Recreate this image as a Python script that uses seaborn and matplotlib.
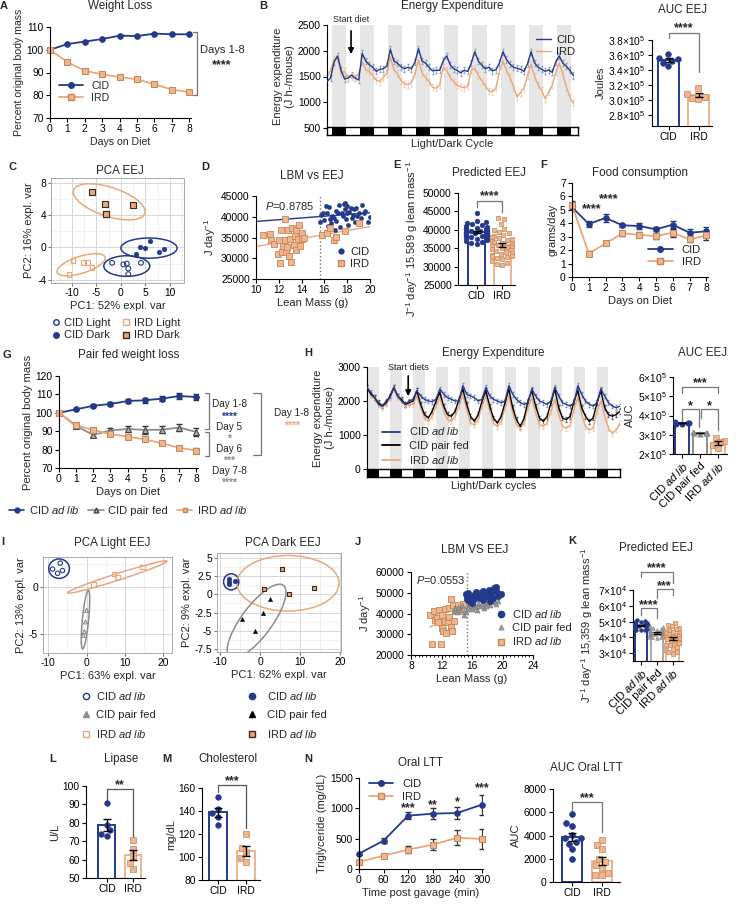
import numpy as np
import pandas as pd
import seaborn as sns
import matplotlib.pyplot as plt
from matplotlib.patches import Ellipse
from matplotlib.lines import Line2D
from matplotlib.ticker import FuncFormatter, MultipleLocator

# ---------------- data ----------------
days = [0, 1, 2, 3, 4, 5, 6, 7, 8]
wl_cid = [100, 102.5, 103.6, 104.7, 106.2, 106.0, 107.1, 106.8, 106.8]
wl_ird = [100, 94.6, 90.7, 89.2, 88.0, 87.0, 84.8, 82.5, 81.4]

# energy expenditure, 3 h bins
ee_hours = list(range(0, 211, 3))
ee_cid = [1400, 1470, 1780, 1900, 1620, 1450, 1470, 1530, 1470, 1430,
          1950, 1800, 1730, 1680, 1600, 1640, 1650, 1700, 2030, 1800,
          1760, 1690, 1650, 1680, 1650, 1780, 2040, 1800, 1760, 1680,
          1610, 1620, 1620, 1800, 1900, 1730, 1650, 1620, 1570, 1620,
          1600, 1760, 1980, 1800, 1720, 1650, 1680, 1610, 1630, 1760,
          1980, 1830, 1740, 1680, 1660, 1640, 1600, 1750, 1980, 1760,
          1680, 1640, 1600, 1630, 1580, 1780, 1900, 1760, 1700, 1620,
          1520]
ee_ird = [1500, 1620, 1830, 1850, 1570, 1600, 1470, 1490, 1470, 1550,
          1790, 1630, 1600, 1520, 1430, 1400, 1480, 1560, 1880, 1630,
          1560, 1420, 1360, 1340, 1380, 1560, 1820, 1570, 1480, 1400,
          1290, 1270, 1330, 1680, 1620, 1480, 1400, 1330, 1300, 1280,
          1310, 1620, 1660, 1520, 1420, 1320, 1220, 1200, 1270, 1600,
          1800, 1620, 1480, 1300, 1100, 1190, 1280, 1520, 1740, 1500,
          1330, 1230, 1070, 1200, 1330, 1580, 1760, 1550, 1300, 1100,
          980]
ee_dark = [4, 28, 52, 76, 100, 124, 148, 172, 196]
ee_sem = 60

auc_cid = [3.62e5, 3.56e5, 3.50e5, 3.45e5, 3.52e5, 3.55e5]
auc_ird = [3.17e5, 3.05e5, 3.03e5, 3.08e5, 3.02e5]

# PCA EEJ (C)
c_cl_x = [-1.8, 0.5, 1.2, 1.5, 1.5, 4.1]
c_cl_y = [-1.9, -2.1, -2.0, -2.6, -3.3, -1.9]
c_cd_x = [5.9, 3.9, 4.9, 3.0, 7.8, 8.9]
c_cd_y = [0.8, 0.1, -0.1, -0.8, -0.6, -0.2]
c_il_x = [-9.8, -10.6, -7.6, -6.8, -5.9]
c_il_y = [-1.6, -3.3, -1.9, -1.9, -2.5]
c_id_x = [-6.0, -3.2, -3.0, -3.1, 2.4]
c_id_y = [6.9, 5.4, 4.1, 4.2, 5.2]
c_ell = {'id': (-2.4, 5.65, 14.9, 3.7, -10), 'il': (-8.15, -2.14, 10.0, 2.15, 10),
         'cd': (5.74, -0.08, 11.5, 2.5, 0), 'cl': (1.2, -2.3, 9.4, 2.55, 0)}

# LBM vs EEJ (D)
d_cid_x = [15.6, 15.7, 15.9, 16.0, 16.1, 16.2, 16.3, 16.4, 16.5, 16.6, 16.7, 16.8, 16.9, 17.0,
           17.0, 17.2, 17.3, 17.4, 17.5, 17.6, 17.7, 17.8, 17.8, 17.9, 18.0, 18.0, 18.1, 18.2,
           18.3, 18.4, 18.5, 18.6, 18.7, 18.8, 18.9, 19.0, 19.2, 19.3, 19.5, 19.6, 19.8, 20.0]
d_cid_y = [38800, 40500, 40800, 39200, 42500, 41000, 37800, 42300, 39500, 38500, 40200, 39800,
           36800, 41500, 39000, 40800, 42800, 37500, 41000, 40200, 43000, 43200, 41800, 39500,
           42600, 40800, 38000, 41200, 42200, 39800, 40500, 41800, 38800, 42000, 40300, 41000,
           39600, 42800, 40800, 41500, 38800, 40000]
d_ird_x = [10.6, 11.2, 11.3, 11.6, 11.9, 12.0, 12.1, 12.2, 12.3, 12.4, 12.5, 12.5, 12.6, 12.7,
           12.8, 12.9, 13.0, 13.1, 13.2, 13.3, 13.4, 13.5, 13.5, 13.7, 13.8, 13.9, 14.0, 14.0,
           14.2, 15.8, 16.2, 16.5, 16.8, 17.0, 17.8, 19.0]
d_ird_y = [35500, 35800, 34500, 33500, 31000, 34500, 28800, 36800, 31500, 33000, 39500, 34500,
           31500, 32800, 36900, 30500, 34600, 29000, 37200, 33200, 35300, 32000, 36800, 34600,
           38000, 33000, 36200, 34600, 35000, 35700, 36000, 37400, 34500, 35200, 36600, 38500]

# predicted EEJ (E)
e_cid = [44500, 42500, 42000, 41800, 41500, 41200, 41000, 40800, 40600, 40400, 40200, 40100,
         40000, 39900, 39800, 39600, 39500, 39400, 39300, 39200, 39100, 39000, 38900, 38800,
         38700, 38600, 38500, 38400, 38200, 38000, 37800, 37600, 37400, 37200, 37000, 36700,
         36400, 36100]
e_ird = [43200, 42800, 41500, 40200, 40000, 39500, 39000, 38700, 38300, 38000, 37700, 37400,
         37200, 37000, 36800, 36500, 36300, 36000, 35800, 35600, 35400, 35200, 35000, 34700,
         34400, 34200, 34000, 33700, 33400, 33200, 33000, 32800, 32500, 32300, 32000, 31500,
         31000, 30600, 30400]

# food consumption (F)
f_cid = [5.2, 3.95, 4.4, 3.85, 3.8, 3.55, 3.9, 3.3, 3.4]
f_cid_err = [0.3, 0.25, 0.3, 0.1, 0.2, 0.15, 0.25, 0.25, 0.3]
f_ird = [5.35, 1.75, 2.5, 3.25, 3.15, 3.05, 3.3, 2.8, 3.1]
f_ird_err = [0.3, 0.15, 0.15, 0.2, 0.2, 0.2, 0.3, 0.2, 0.35]

# pair fed weight loss (G)
g_cid = [100, 101.9, 103.8, 104.8, 106.4, 106.8, 107.7, 109.1, 108.6]
g_cid_err = [0.3, 0.6, 0.8, 0.9, 1.0, 1.3, 1.3, 1.4, 1.5]
g_pf = [100, 92.8, 88.0, 90.4, 91.2, 90.7, 90.8, 92.0, 89.6]
g_pf_err = [0.3, 1.0, 1.3, 1.2, 1.4, 2.0, 1.9, 2.0, 2.3]
g_ird = [100, 93.2, 90.7, 88.5, 87.0, 85.6, 83.4, 81.0, 79.5]
g_ird_err = [0.3, 0.5, 0.8, 0.6, 0.6, 0.7, 0.9, 0.9, 1.1]

# energy expenditure pair fed (H), 4 h bins
h_hours = list(range(0, 265, 4))
h_cid = [2400, 2250, 2100, 1900, 1850, 2000, 2100, 2400, 2150, 2000, 1900, 2000,
         2050, 2300, 2150, 2050, 2000, 1980, 2050, 2350, 2200, 2100, 2050, 2000,
         2000, 2450, 2200, 2150, 2100, 2000, 2050, 2400, 2150, 2050, 2000, 1950,
         2000, 2450, 2200, 2050, 1950, 1900, 1950, 2350, 2150, 2000, 1950, 1900,
         2000, 2400, 2150, 1950, 1900, 1850, 1950, 2450, 2200, 2000, 1900, 1850,
         1950, 2350, 2150, 1950, 1850, 1800, 1850]
h_pf = [2400, 2200, 2100, 1950, 1850, 1950, 2150, 2400, 2150, 2050, 1900, 1950,
        2000, 2300, 1900, 1600, 1500, 1700, 2000, 2250, 1850, 1600, 1550, 1700,
        2050, 2350, 1900, 1550, 1400, 1600, 2000, 2300, 1850, 1500, 1350, 1550,
        1950, 2350, 1800, 1450, 1250, 1500, 2000, 2300, 1850, 1500, 1400, 1550,
        1950, 2350, 1800, 1500, 1450, 1550, 2000, 2300, 1800, 1550, 1400, 1500,
        1950, 2300, 1800, 1600, 1550, 1600, 1700]
h_ird = [2350, 2200, 2050, 1900, 1800, 1900, 2100, 2350, 2100, 2000, 1850, 1900,
         1900, 2150, 1800, 1500, 1400, 1550, 1850, 2100, 1700, 1450, 1400, 1550,
         1850, 2200, 1750, 1350, 1300, 1450, 1850, 2150, 1700, 1350, 1250, 1400,
         1800, 2150, 1650, 1300, 1200, 1350, 1800, 2100, 1650, 1300, 1250, 1350,
         1700, 2050, 1600, 1250, 1200, 1300, 1750, 2100, 1600, 1250, 1150, 1200,
         1700, 2000, 1550, 1200, 1050, 1150, 1350]
h_dark = [0, 24, 48, 72, 96, 120, 144, 168, 192, 216, 240]
h_sem = 70

hauc_cid = [3.55e5, 3.62e5, 3.65e5, 3.58e5, 3.63e5]
hauc_pf = [3.05e5, 3.10e5, 3.12e5, 3.08e5, 3.10e5]
hauc_ird = [2.85e5, 2.45e5, 2.70e5, 2.30e5, 2.60e5]

# PCA light / dark (I)
il_cid_x = [-8.9, -6.9, -7.6, -6.3]
il_cid_y = [1.96, 2.6, 1.5, 1.8]
il_ird_x = [1.8, 7.2, 8.1, 14.6]
il_ird_y = [0.3, 1.4, 1.1, 2.2]
il_pf_x = [0.0, -0.3, -0.6, -0.9]
il_pf_y = [-2.5, -3.75, -4.8, -5.2]
il_ell = {'cid': (-7.2, 2.0, 5.4, 2.1, 0), 'ird': (8.0, 1.1, 26.2, 0.75, 7.5),
          'pf': (-0.3, -3.5, 6.5, 1.6, 76)}
id_cid_x = [-7.8, -7.8, -6.2, -7.8]
id_cid_y = [2.1, 1.4, 1.8, 1.7]
id_ird_x = [1.1, 5.5, 7.2, 13.6]
id_ird_y = [0.7, 3.4, 0.0, 0.9]
id_pf_x = [-4.6, -1.3, 0.7, 2.6]
id_pf_y = [-3.4, -5.0, -2.6, -0.7]
id_ell = {'cid': (-7.2, 1.7, 3.8, 2.2, 0), 'ird': (7.0, 1.5, 25.5, 7.6, 0),
          'pf': (-0.85, -3.7, 17.0, 5.5, 32)}

# LBM vs EEJ pair fed (J)
j_cid_x = [15.2, 15.3, 15.4, 15.5, 15.6, 15.8, 16.0, 16.2, 16.5, 16.8, 17.0, 17.2, 17.5,
           17.8, 18.0, 18.2, 18.5, 18.7, 18.9, 19.1, 19.2, 19.4, 19.8, 17.5, 18.3, 16.3]
j_cid_y = [49500, 48500, 47000, 50000, 46000, 48000, 45000, 49000, 50500, 49500, 47500,
           50000, 51000, 49000, 48500, 51500, 50000, 47500, 52500, 52800, 51000, 48500,
           49500, 46500, 46000, 47000]
j_pf_x = [13.6, 13.8, 14.0, 14.2, 14.5, 14.7, 15.0, 15.2, 15.4, 15.6, 15.8, 16.0, 16.2,
          16.5, 16.8, 17.0, 17.3, 17.6, 18.0, 18.3, 18.6, 19.0, 19.4, 19.2, 15.5, 16.6, 17.8]
j_pf_y = [41000, 42500, 40500, 43000, 41500, 44000, 39500, 40500, 42000, 44500, 43500,
          42000, 44000, 43000, 45000, 43500, 44500, 42500, 45000, 44000, 46000, 45500,
          46000, 44500, 43000, 41500, 43800]
j_ird_x = [10.5, 10.8, 11.0, 11.2, 11.4, 11.6, 11.7, 11.9, 12.0, 12.1, 12.2, 12.4, 12.5,
           12.6, 12.8, 13.0, 13.0, 13.2, 13.3, 13.4, 13.5, 13.7, 14.0, 14.2, 14.5, 14.8]
j_ird_y = [39500, 25200, 41000, 37000, 38000, 36000, 41500, 25300, 33000, 39500, 31500,
           36500, 42000, 30800, 36000, 38500, 42500, 47000, 33500, 31500, 44000, 36500,
           42000, 44000, 41000, 44500]

# predicted EEJ pair fed (K)
k_cid = [50800, 50200, 49800, 49500, 49200, 49000, 48800, 48600, 48400, 48200, 48000,
         47800, 47600, 47400, 47200, 47000, 46800, 46600, 46400, 46200, 46000, 45800,
         45600, 45400, 45200, 45000, 44800, 44500]
k_pf = [47500, 46800, 46000, 45500, 45000, 44600, 44200, 43900, 43600, 43300, 43000,
        42800, 42600, 42400, 42200, 42000, 41800, 41600, 41400, 41200, 41000, 40800,
        40600, 40400, 40200, 40000, 39800]
k_ird = [49000, 48000, 47000, 46000, 45500, 45000, 44200, 43500, 43000, 42500, 42000,
         41500, 41000, 40500, 40000, 39500, 39000, 38500, 38000, 37000, 36500, 36000,
         35500, 35000, 34000, 33000, 32000, 31000, 30500, 29800]

lip_cid = [91, 79, 76, 74, 73]
lip_ird = [70.5, 66, 62, 58, 55]
chol_cid = [152, 142, 138, 135, 128]
chol_ird = [120, 108, 104, 99, 96]

ltt_min = [0, 60, 120, 180, 240, 300]
ltt_cid = [253, 467, 879, 912, 923, 1060]
ltt_cid_err = [20, 45, 55, 95, 95, 165]
ltt_ird = [115, 220, 319, 401, 515, 495]
ltt_ird_err = [20, 25, 60, 90, 120, 160]
ltt_auc_cid = [5850, 5050, 4850, 4050, 3800, 3750, 3400, 3300, 2800, 1950]
ltt_auc_ird = [3650, 3200, 2800, 2000, 1700, 1500, 1200, 800, 600, 600]

# ---------------- style ----------------
NAVY = '#24398a'
ORANGE = '#eaa77d'
OR_F = '#eeb690'
OR_E = '#c98656'
OR_DK = '#3b2a1c'
GRAY = '#8c8c8c'
SHADE = '#e6e6e6'

sns.set_style('ticks')
plt.rcParams['font.family'] = ['Liberation Sans', 'DejaVu Sans']
plt.rcParams.update({
    'font.size': 7.4, 'axes.labelsize': 7.6, 'axes.linewidth': 0.8,
    'xtick.labelsize': 7.4, 'ytick.labelsize': 7.4,
    'xtick.major.size': 3, 'ytick.major.size': 3,
    'xtick.major.width': 0.8, 'ytick.major.width': 0.8,
    'xtick.major.pad': 1.5, 'ytick.major.pad': 1.5,
    'axes.labelpad': 2, 'axes.unicode_minus': False,
    'mathtext.fontset': 'custom', 'mathtext.rm': 'Liberation Sans',
    'mathtext.it': 'Liberation Sans:italic', 'mathtext.default': 'regular',
    'legend.fontsize': 7.6, 'legend.frameon': False,
    'axes.edgecolor': 'k', 'xtick.color': 'k', 'ytick.color': 'k',
})

W, H = 738, 906
fig = plt.figure(figsize=(W / 100, H / 100), dpi=100)
ADL = r'$\mathit{ad\ lib}$'


def box(x0, y0, x1, y1):
    return fig.add_axes([x0 / W, 1 - y1 / H, (x1 - x0) / W, (y1 - y0) / H])


def ftext(x, y, s, **kw):
    kw.setdefault('ha', 'center')
    kw.setdefault('va', 'center')
    fig.text(x / W, 1 - y / H, s, **kw)


def fline(xs, ys, **kw):
    fig.add_artist(Line2D([x / W for x in xs], [1 - y / H for y in ys],
                          transform=fig.transFigure, **kw))


def clean(ax):
    sns.despine(ax=ax)


def sig(ax, x1, x2, y, d1, d2, text, ty, color='#777777'):
    ax.plot([x1, x1, x2, x2], [d1, y, y, d2], color=color, lw=0.9, clip_on=False)
    ax.text((x1 + x2) / 2, ty, text, ha='center', va='center', fontsize=9,
            fontweight='bold', clip_on=False)


def bars(ax, groups, values, colors, edges, markers, msize, width=0.65):
    df = pd.DataFrame({'grp': np.repeat(groups, [len(v) for v in values]),
                       'val': np.concatenate(values)})
    sns.barplot(data=df, x='grp', y='val', hue='grp', order=groups, hue_order=groups,
                palette=colors, saturation=1, fill=False, width=width, linewidth=1.4,
                errorbar=None, legend=False, ax=ax)
    for g, c, e, m in zip(groups, colors, edges, markers):
        sns.swarmplot(data=df[df.grp == g], x='grp', y='val', order=groups, color=c,
                      edgecolor=e, linewidth=0.5, marker=m, size=msize, ax=ax, zorder=3)
    for i, v in enumerate(values):
        v = np.asarray(v, dtype=float)
        ax.errorbar(i, v.mean(), yerr=v.std(ddof=1) / np.sqrt(len(v)), color='k',
                    capsize=3, elinewidth=1, capthick=1, zorder=5)
    ax.set_xlabel('')
    ax.set_ylabel('')
    clean(ax)


def ld_bar(x0, y0, x1, y1, xmax, starts, length, label):
    lax = box(x0, y0, x1, y1)
    lax.set_xlim(0, xmax)
    lax.set_ylim(0, 1)
    for s in starts:
        lax.axvspan(s, s + length, color='k', lw=0)
    lax.set_xticks([])
    lax.set_yticks([])
    for sp in lax.spines.values():
        sp.set_linewidth(1)
    lax.set_xlabel(label, fontsize=8, labelpad=3)


def pca_axes(ax, xlim, ylim, xt, yt, xmin, ymin):
    ax.set(xlim=xlim, ylim=ylim, xticks=xt, yticks=yt)
    ax.xaxis.set_minor_locator(MultipleLocator(xmin))
    ax.yaxis.set_minor_locator(MultipleLocator(ymin))
    ax.grid(True, which='major', color='#d6d6d6', lw=0.7)
    ax.grid(True, which='minor', color='#ececec', lw=0.5)
    ax.set_axisbelow(True)
    for sp in ax.spines.values():
        sp.set_color('#aaaaaa')
        sp.set_linewidth(0.7)
    ax.tick_params(which='major', length=2, color='#777777')
    ax.tick_params(which='minor', length=0)


def ell(ax, e, color):
    cx, cy, w, h, a = e
    ax.add_patch(Ellipse((cx, cy), w, h, angle=a, fill=False, ec=color, lw=1.1))


def sci(exp, digits):
    return FuncFormatter(lambda v, p: f'{v / 10 ** exp:.{digits}f}×10$^{exp}$')


h_cid_line = Line2D([], [], color=NAVY, marker='o', ms=4, lw=1.3)
h_ird_line = Line2D([], [], color=ORANGE, marker='s', ms=4, mfc=OR_F, mec=OR_E, lw=1.3)

# ---------------- A ----------------
ax = box(50, 27, 191, 118)
sns.lineplot(x=days, y=wl_cid, color=NAVY, marker='o', markersize=4, mec=NAVY, lw=1.3,
             clip_on=False, ax=ax)
sns.lineplot(x=days, y=wl_ird, color=ORANGE, marker='s', markersize=4, mfc=OR_F, mec=OR_E,
             lw=1.3, clip_on=False, ax=ax)
ax.set(xlim=(0, 8.1), ylim=(70, 110), xticks=days, yticks=[70, 80, 90, 100, 110])
ax.set_xlabel('Days on Diet')
ax.set_ylabel('Percent original body mass')
ax.legend([h_cid_line, h_ird_line], ['CID', 'IRD'], loc='lower left',
          bbox_to_anchor=(0.0, 0.06), handlelength=2.2, labelspacing=0.2)
clean(ax)
fline([193, 197, 197, 193], [32, 32, 95, 95], color='#777777', lw=0.9)
ftext(222, 50, 'Days 1-8', fontsize=8)
ftext(222, 65, '****', fontsize=9, fontweight='bold')

# ---------------- B ----------------
ax = box(327, 25, 578, 128)
for s in ee_dark:
    ax.axvspan(s, s + 12, color=SHADE, lw=0, zorder=0)
ax.errorbar(ee_hours, ee_cid, yerr=ee_sem, fmt='none', ecolor='#8b98c6', elinewidth=0.5,
            capsize=1, zorder=1)
ax.errorbar(ee_hours, ee_ird, yerr=ee_sem, fmt='none', ecolor='#f2c8ad', elinewidth=0.5,
            capsize=1, zorder=1)
sns.lineplot(x=ee_hours, y=ee_cid, color=NAVY, lw=1.0, ax=ax, label='CID', zorder=3)
sns.lineplot(x=ee_hours, y=ee_ird, color=ORANGE, lw=1.0, ax=ax, label='IRD', zorder=2)
ax.set(xlim=(0, 214), ylim=(500, 2500), yticks=[500, 1000, 1500, 2000, 2500], xticks=[])
sns.despine(ax=ax, bottom=True)
ax.set_ylabel('Energy expenditure\n(J h-/mouse)', fontsize=8)
ax.legend(loc='upper right', bbox_to_anchor=(1.03, 1.0), handlelength=1.3,
          handletextpad=0.5, labelspacing=0.2, fontsize=8)
ax.annotate('', xy=(20.5, 1880), xytext=(20.5, 2440),
            arrowprops=dict(arrowstyle='-|>', color='k', lw=1.2, mutation_scale=8),
            annotation_clip=False)
ax.text(20.5, 2600, 'Start diet', ha='center', va='center', fontsize=6.5, clip_on=False)
ld_bar(327, 127, 578, 135, 214, ee_dark, 12, 'Light/Dark Cycle')

ax = box(652, 40, 712, 126)
bars(ax, ['CID', 'IRD'], [auc_cid, auc_ird], [NAVY, OR_F], [NAVY, OR_E], ['o', 's'], 4,
     width=0.67)
ax.set(xlim=(-0.55, 1.45), ylim=(2.66e5, 3.8e5),
       yticks=[2.8e5, 3.0e5, 3.2e5, 3.4e5, 3.6e5, 3.8e5])
ax.yaxis.set_major_formatter(sci(5, 1))
ax.set_ylabel('Joules', fontsize=8)
sig(ax, 0, 1, 3.893e5, 3.827e5, 3.373e5, '****', 3.96e5)

# ---------------- C ----------------
ax = box(51, 178, 184, 283)
pca_axes(ax, (-14.3, 12.9), (-4.4, 8.6), [-10, -5, 0, 5, 10], [-4, 0, 4, 8], 2.5, 2)
ell(ax, c_ell['id'], ORANGE)
ell(ax, c_ell['il'], ORANGE)
ell(ax, c_ell['cd'], NAVY)
ell(ax, c_ell['cl'], NAVY)
sns.scatterplot(x=c_cl_x, y=c_cl_y, marker='o', s=12, facecolor='none', edgecolor=NAVY,
                linewidth=0.8, ax=ax)
sns.scatterplot(x=c_cd_x, y=c_cd_y, marker='o', s=12, color=NAVY, edgecolor=NAVY, ax=ax)
sns.scatterplot(x=c_il_x, y=c_il_y, marker='s', s=12, facecolor='none', edgecolor=ORANGE,
                linewidth=0.8, ax=ax)
sns.scatterplot(x=c_id_x, y=c_id_y, marker='s', s=14, color=ORANGE, edgecolor=OR_DK,
                linewidth=0.8, ax=ax)
ax.set_xlabel('PC1: 52% expl. var', fontsize=8)
ax.set_ylabel('PC2: 16% expl. var', fontsize=8)
hc = [Line2D([], [], ls='', marker='o', ms=4, mfc='none', mec=NAVY),
      Line2D([], [], ls='', marker='o', ms=4, color=NAVY),
      Line2D([], [], ls='', marker='s', ms=4, mfc='none', mec=ORANGE),
      Line2D([], [], ls='', marker='s', ms=4, mfc=ORANGE, mec=OR_DK)]
fig.legend(hc, ['CID Light', 'CID Dark', 'IRD Light', 'IRD Dark'], loc='center',
           bbox_to_anchor=(116 / W, 1 - 329 / H), ncol=2, handlelength=0.8,
           handletextpad=0.3, columnspacing=1.0, labelspacing=0.25, fontsize=8)

# ---------------- D ----------------
ax = box(256, 196, 370, 279)
sns.scatterplot(x=d_cid_x, y=d_cid_y, color=NAVY, s=10, edgecolor=NAVY, ax=ax, zorder=3)
sns.scatterplot(x=d_ird_x, y=d_ird_y, marker='s', color=OR_F, edgecolor=OR_E, s=14,
                linewidth=0.6, ax=ax, zorder=3)
sns.regplot(x=d_cid_x, y=d_cid_y, scatter=False, ci=None, color=NAVY, line_kws={'lw': 1},
            truncate=False, ax=ax)
sns.regplot(x=d_ird_x, y=d_ird_y, scatter=False, ci=None, color=ORANGE, line_kws={'lw': 1},
            truncate=False, ax=ax)
ax.axvline(15.589, ls=':', color='#777777', lw=1)
ax.set(xlim=(10, 20), ylim=(25000, 45000), xticks=[10, 12, 14, 16, 18, 20],
       yticks=[25000, 30000, 35000, 40000, 45000])
ax.set_xlabel('Lean Mass (g)', fontsize=8)
ax.set_ylabel('J day$^{-1}$', fontsize=8)
ax.text(10.8, 42500, r'$\mathit{P}$=0.8785', fontsize=8, va='center')
hd = [Line2D([], [], ls='', marker='o', ms=3.5, color=NAVY),
      Line2D([], [], ls='', marker='s', ms=4, mfc=OR_F, mec=OR_E)]
ax.legend(hd, ['CID', 'IRD'], loc='lower right', bbox_to_anchor=(1.08, 0.0),
          handlelength=0.8, handletextpad=0.4, labelspacing=0.2, fontsize=8)
clean(ax)

# ---------------- E ----------------
ax = box(458, 193, 515, 285)
bars(ax, ['CID', 'IRD'], [e_cid, e_ird], [NAVY, OR_F], [NAVY, OR_E], ['o', 's'], 3.3,
     width=0.67)
ax.set(xlim=(-0.73, 1.5), ylim=(25000, 50000),
       yticks=[25000, 30000, 35000, 40000, 45000, 50000])
ax.set_ylabel('J$^{-1}$ day$^{-1}$ 15.589 g lean mass$^{-1}$', fontsize=8)
sig(ax, 0, 1, 47900, 46100, 44900, '****', 49100)

# ---------------- F ----------------
ax = box(572, 183, 708, 277)
ax.errorbar(days, f_cid, yerr=f_cid_err, fmt='none', ecolor=NAVY, capsize=2, elinewidth=0.9)
ax.errorbar(days, f_ird, yerr=f_ird_err, fmt='none', ecolor='#333333', capsize=2,
            elinewidth=0.9)
sns.lineplot(x=days, y=f_cid, color=NAVY, marker='o', markersize=4, mec=NAVY, lw=1.3,
             clip_on=False, ax=ax)
sns.lineplot(x=days, y=f_ird, color=ORANGE, marker='s', markersize=4, mfc=OR_F, mec=OR_E,
             lw=1.3, clip_on=False, ax=ax)
ax.set(xlim=(0, 8.1), ylim=(0, 7), xticks=days, yticks=range(8))
ax.set_xlabel('Days on Diet', fontsize=8)
ax.set_ylabel('grams/day', fontsize=8)
ax.text(1.16, 5.03, '****', ha='center', va='center', fontsize=9, fontweight='bold')
ax.text(2.16, 5.78, '****', ha='center', va='center', fontsize=9, fontweight='bold')
ax.legend([h_cid_line, h_ird_line], ['CID', 'IRD'], loc='lower right',
          bbox_to_anchor=(1.02, 0.0), handlelength=2.2, labelspacing=0.2, fontsize=8)
clean(ax)

# ---------------- G ----------------
ax = box(59, 376, 198, 468)
ax.errorbar(days, g_cid, yerr=g_cid_err, fmt='none', ecolor='#333333', capsize=2,
            elinewidth=0.9)
ax.errorbar(days, g_pf, yerr=g_pf_err, fmt='none', ecolor='#333333', capsize=2,
            elinewidth=0.9)
ax.errorbar(days, g_ird, yerr=g_ird_err, fmt='none', ecolor='#333333', capsize=2,
            elinewidth=0.9)
sns.lineplot(x=days, y=g_cid, color=NAVY, marker='o', markersize=4, mec=NAVY, lw=1.3,
             clip_on=False, ax=ax)
sns.lineplot(x=days, y=g_pf, color=GRAY, marker='^', markersize=4, mfc='#aaaaaa',
             mec='#444444', lw=1.3, clip_on=False, ax=ax)
sns.lineplot(x=days, y=g_ird, color=ORANGE, marker='s', markersize=4, mfc=OR_F, mec=OR_E,
             lw=1.3, clip_on=False, ax=ax)
ax.set(xlim=(0, 8.1), ylim=(70, 120), xticks=days, yticks=[70, 80, 90, 100, 110, 120])
ax.set_xlabel('Days on Diet', fontsize=8)
ax.set_ylabel('Percent original body mass', fontsize=8)
clean(ax)
fline([205, 209, 209, 205], [393, 393, 429, 429], color='#777777', lw=0.9)
fline([205, 209, 209, 205], [432, 432, 456, 456], color='#777777', lw=0.9)
fline([253, 261, 261, 253], [393, 393, 455, 455], color='#777777', lw=0.9)
for yy, t, c in [(404, 'Day 1-8', None), (427, 'Day 5', None), (449, 'Day 6', None),
                 (471, 'Day 7-8', None)]:
    ftext(229, yy, t, fontsize=7.2)
for yy, t, c in [(416.5, '****', NAVY), (438.5, '*', GRAY), (460.5, '***', GRAY),
                 (482.5, '****', GRAY)]:
    ftext(229, yy, t, fontsize=7.6, fontweight='bold', color=c)
ftext(292, 413, 'Day 1-8', fontsize=7.2)
ftext(292, 426, '****', fontsize=7.6, fontweight='bold', color=ORANGE)
hg = [Line2D([], [], color=NAVY, marker='o', ms=3.5, lw=1.2),
      Line2D([], [], color=GRAY, marker='^', ms=3.5, mfc='#aaaaaa', mec='#444444', lw=1.2),
      Line2D([], [], color=ORANGE, marker='s', ms=3.5, mfc=OR_F, mec=OR_E, lw=1.2)]
fig.legend(hg, ['CID ' + ADL, 'CID pair fed', 'IRD ' + ADL], loc='center',
           bbox_to_anchor=(128 / W, 1 - 510 / H), ncol=3, handlelength=1.4,
           handletextpad=0.4, columnspacing=0.8, fontsize=8)

# ---------------- H ----------------
ax = box(367, 367, 620, 469)
for s in h_dark:
    ax.axvspan(s, s + 12, color=SHADE, lw=0, zorder=0)
for yv, ec in [(h_cid, '#7d8cc4'), (h_pf, '#555555'), (h_ird, '#f2c8ad')]:
    ax.errorbar(h_hours, yv, yerr=h_sem, fmt='none', ecolor=ec, elinewidth=0.5, capsize=1,
                zorder=1)
sns.lineplot(x=h_hours, y=h_ird, color=ORANGE, lw=1.0, ax=ax, zorder=2)
sns.lineplot(x=h_hours, y=h_pf, color='k', lw=1.0, ax=ax, zorder=3)
sns.lineplot(x=h_hours, y=h_cid, color=NAVY, lw=1.0, ax=ax, zorder=4)
ax.set(xlim=(0, 264), ylim=(0, 3000), yticks=[0, 1000, 2000, 3000], xticks=[])
sns.despine(ax=ax, bottom=True)
ax.set_ylabel('Energy expenditure\n(J h-/mouse)', fontsize=8)
hh = [Line2D([], [], color=NAVY, lw=1.3), Line2D([], [], color='k', lw=1.3),
      Line2D([], [], color=ORANGE, lw=1.3)]
ax.legend(hh, ['CID ' + ADL, 'CID pair fed', 'IRD ' + ADL], loc='lower left',
          bbox_to_anchor=(0.02, -0.07), handlelength=1.6, labelspacing=0.3, fontsize=8)
ax.annotate('', xy=(43, 2060), xytext=(43, 2820),
            arrowprops=dict(arrowstyle='-|>', color='k', lw=1.2, mutation_scale=8),
            annotation_clip=False)
ax.text(43, 2980, 'Start diets', ha='center', va='center', fontsize=6.5, clip_on=False)
ld_bar(367, 469, 620, 477, 264, h_dark, 12, 'Light/Dark cycles')

ax = box(673, 377, 727, 454)
bars(ax, ['a', 'p', 'i'], [hauc_cid, hauc_pf, hauc_ird], [NAVY, GRAY, OR_F],
     [NAVY, GRAY, OR_E], ['o', '^', 's'], 3.8, width=0.78)
ax.set(xlim=(-0.5, 2.5), ylim=(2e5, 6e5), yticks=[2e5, 3e5, 4e5, 5e5, 6e5])
ax.yaxis.set_major_formatter(sci(5, 0))
ax.set_xticks([0, 1, 2])
ax.set_xticklabels(['CID ' + ADL, 'CID pair fed', 'IRD ' + ADL], rotation=45, ha='right',
                   rotation_mode='anchor', fontsize=8)
ax.set_ylabel('AUC', fontsize=8)
sig(ax, 0, 2, 5.48e5, 5.17e5, 5.17e5, '***', 5.69e5)
sig(ax, 0, 0.92, 4.34e5, 3.77e5, 3.42e5, '*', 4.5e5)
sig(ax, 1.08, 2, 4.34e5, 3.87e5, 3.25e5, '*', 4.5e5)

# ---------------- I ----------------
ax = box(43, 557, 172, 653)
pca_axes(ax, (-11.4, 22.3), (-7.1, 3.26), [-10, 0, 10, 20], [-5, 0], 5, 2.5)
ell(ax, il_ell['cid'], NAVY)
ell(ax, il_ell['ird'], ORANGE)
ell(ax, il_ell['pf'], GRAY)
sns.scatterplot(x=il_cid_x, y=il_cid_y, marker='o', s=10, facecolor='none', edgecolor=NAVY,
                linewidth=0.8, ax=ax)
sns.scatterplot(x=il_ird_x, y=il_ird_y, marker='s', s=10, facecolor='none', edgecolor=ORANGE,
                linewidth=0.8, ax=ax)
sns.scatterplot(x=il_pf_x, y=il_pf_y, marker='^', s=8, facecolor='none', edgecolor=GRAY,
                linewidth=0.8, ax=ax)
ax.set_xlabel('PC1: 63% expl. var', fontsize=8)
ax.set_ylabel('PC2: 13% expl. var', fontsize=8)
hi = [Line2D([], [], ls='', marker='o', ms=4.5, mfc='none', mec=NAVY),
      Line2D([], [], ls='', marker='^', ms=4.5, color=GRAY),
      Line2D([], [], ls='', marker='s', ms=4.5, mfc='none', mec=ORANGE)]
fig.legend(hi, ['CID ' + ADL, 'CID pair fed', 'IRD ' + ADL], loc='upper left',
           bbox_to_anchor=(72 / W, 1 - 680 / H), handlelength=0.8, handletextpad=0.5,
           labelspacing=0.7, fontsize=8)

ax = box(217, 553, 341, 652)
pca_axes(ax, (-10.75, 20.25), (-7.9, 5.64), [-10, 0, 10, 20],
         [-7.5, -5, -2.5, 0, 2.5, 5], 5, 1.25)
ax.yaxis.set_major_formatter(FuncFormatter(lambda v, p: f'{v:g}'))
ell(ax, id_ell['cid'], NAVY)
ell(ax, id_ell['ird'], ORANGE)
ell(ax, id_ell['pf'], GRAY)
sns.scatterplot(x=id_cid_x, y=id_cid_y, marker='o', s=12, color=NAVY, edgecolor=NAVY, ax=ax)
sns.scatterplot(x=id_ird_x, y=id_ird_y, marker='s', s=12, color=ORANGE, edgecolor=OR_DK,
                linewidth=0.8, ax=ax)
sns.scatterplot(x=id_pf_x, y=id_pf_y, marker='^', s=10, color='k', edgecolor='k', ax=ax)
ax.set_xlabel('PC1: 62% expl. var', fontsize=8)
ax.set_ylabel('PC2: 9% expl. var', fontsize=8)
hi2 = [Line2D([], [], ls='', marker='o', ms=4.5, color=NAVY),
       Line2D([], [], ls='', marker='^', ms=4.5, color='k'),
       Line2D([], [], ls='', marker='s', ms=4.5, mfc=ORANGE, mec=OR_DK)]
fig.legend(hi2, ['CID ' + ADL, 'CID pair fed', 'IRD ' + ADL], loc='upper left',
           bbox_to_anchor=(238 / W, 1 - 680 / H), handlelength=0.8, handletextpad=0.9,
           labelspacing=0.7, fontsize=8)

# ---------------- J ----------------
ax = box(411, 572, 533, 655)
sns.regplot(x=j_ird_x, y=j_ird_y, scatter=False, ci=None, color=ORANGE, line_kws={'lw': 1},
            ax=ax)
sns.regplot(x=j_pf_x, y=j_pf_y, scatter=False, ci=None, color=GRAY, line_kws={'lw': 1},
            ax=ax)
sns.regplot(x=j_cid_x, y=j_cid_y, scatter=False, ci=None, color=NAVY, line_kws={'lw': 1},
            ax=ax)
sns.scatterplot(x=j_ird_x, y=j_ird_y, marker='s', s=24, color=OR_F, edgecolor=OR_E,
                linewidth=0.6, ax=ax, zorder=3)
sns.scatterplot(x=j_pf_x, y=j_pf_y, marker='^', s=12, color='#9a9a9a', edgecolor='#777777',
                linewidth=0.5, ax=ax, zorder=3)
sns.scatterplot(x=j_cid_x, y=j_cid_y, marker='o', s=22, color=NAVY, edgecolor=NAVY,
                ax=ax, zorder=4)
ax.axvline(15.359, ls=':', color='#777777', lw=1)
ax.set(xlim=(8, 24), ylim=(20000, 60000), xticks=[8, 12, 16, 20, 24],
       yticks=[20000, 30000, 40000, 50000, 60000])
ax.xaxis.set_minor_locator(MultipleLocator(0.5))
ax.tick_params(which='minor', length=1.5, width=0.6)
ax.set_xlabel('Lean Mass (g)', fontsize=8)
ax.set_ylabel('J day$^{-1}$', fontsize=8)
ax.text(8.6, 56000, r'$\mathit{P}$=0.0553', fontsize=8, va='center')
hj = [Line2D([], [], ls='', marker='o', ms=4.5, color=NAVY),
      Line2D([], [], ls='', marker='^', ms=3.5, color='#9a9a9a'),
      Line2D([], [], ls='', marker='s', ms=4.5, mfc=OR_F, mec=OR_E)]
ax.legend(hj, ['CID ' + ADL, 'CID pair fed', 'IRD ' + ADL], loc='lower left',
          bbox_to_anchor=(0.62, -0.03), handlelength=0.8, handletextpad=0.6,
          labelspacing=0.25, fontsize=8)
clean(ax)

# ---------------- K ----------------
ax = box(633, 590, 683, 661)
bars(ax, ['a', 'p', 'i'], [k_cid, k_pf, k_ird], [NAVY, '#aaaaaa', OR_F],
     [NAVY, '#888888', OR_E], ['o', '^', 's'], 2.6, width=0.78)
ax.set(xlim=(-0.5, 2.65), ylim=(2.51e4, 7e4), yticks=[3e4, 4e4, 5e4, 6e4, 7e4])
ax.yaxis.set_major_formatter(sci(4, 0))
ax.set_xticks([0, 1, 2])
ax.set_xticklabels(['CID ' + ADL, 'CID pair fed', 'IRD ' + ADL], rotation=45, ha='right',
                   rotation_mode='anchor', fontsize=8)
ax.set_ylabel('J$^{-1}$ day$^{-1}$ 15,359 g lean mass$^{-1}$', fontsize=8)
sig(ax, 0, 2, 8.16e4, 7.84e4, 7.46e4, '****', 8.35e4)
sig(ax, 1, 2, 7.04e4, 6.49e4, 6.68e4, '***', 7.25e4)
sig(ax, 0, 1, 5.84e4, 5.41e4, 5.2e4, '****', 6.05e4)

# ---------------- L / M ----------------
ax = box(86, 786, 145, 878)
bars(ax, ['CID', 'IRD'], [lip_cid, lip_ird], [NAVY, OR_F], [NAVY, OR_E], ['o', 's'], 4,
     width=0.65)
ax.set(xlim=(-0.8, 1.46), ylim=(50, 100), yticks=[50, 60, 70, 80, 90, 100])
ax.set_ylabel('U/L', fontsize=8)
sig(ax, 0, 1, 98.4, 92.4, 72.3, '**', 100.5, color='#555555')

ax = box(202, 788, 260, 880)
bars(ax, ['CID', 'IRD'], [chol_cid, chol_ird], [NAVY, OR_F], [NAVY, OR_E], ['o', 's'], 4,
     width=0.65)
ax.set(xlim=(-0.57, 1.5), ylim=(80, 160), yticks=[80, 100, 120, 140, 160])
ax.set_ylabel('mg/dL', fontsize=8)
sig(ax, 0, 1, 162.6, 156.8, 125.2, '***', 166, color='#555555')

# ---------------- N ----------------
ax = box(359, 778, 483, 869)
ax.errorbar(ltt_min, ltt_cid, yerr=ltt_cid_err, fmt='none', ecolor='#333333', capsize=2.5,
            elinewidth=0.9)
ax.errorbar(ltt_min, ltt_ird, yerr=ltt_ird_err, fmt='none', ecolor='#333333', capsize=2.5,
            elinewidth=0.9)
sns.lineplot(x=ltt_min, y=ltt_cid, color=NAVY, marker='o', markersize=4, mec=NAVY, lw=1.3,
             clip_on=False, ax=ax)
sns.lineplot(x=ltt_min, y=ltt_ird, color=ORANGE, marker='s', markersize=4, mfc=OR_F,
             mec=OR_E, lw=1.3, clip_on=False, ax=ax)
ax.set(xlim=(0, 303), ylim=(0, 1500), xticks=ltt_min, yticks=[0, 500, 1000, 1500])
ax.set_xlabel('Time post gavage (min)', fontsize=8)
ax.set_ylabel('Triglyceride (mg/dL)', fontsize=8)
for xv, yv, t in [(120, 1005, '***'), (180, 1060, '**'), (240, 1105, '*'), (300, 1335, '***')]:
    ax.text(xv, yv, t, ha='center', va='center', fontsize=9, fontweight='bold',
            clip_on=False)
ax.legend([h_cid_line, h_ird_line], ['CID', 'IRD'], loc='upper left',
          bbox_to_anchor=(0.0, 1.1), handlelength=2.2, labelspacing=0.25, fontsize=8)
clean(ax)

ax = box(553, 789, 620, 882)
bars(ax, ['CID', 'IRD'], [ltt_auc_cid, ltt_auc_ird], [NAVY, OR_F], [NAVY, OR_E], ['o', 's'],
     4.2, width=0.68)
ax.set(xlim=(-0.66, 1.63), ylim=(0, 8000), yticks=[0, 2000, 4000, 6000, 8000])
ax.set_ylabel('AUC', fontsize=8)
sig(ax, 0, 1, 6856, 6194, 4327, '***', 7250)

# ---------------- titles and panel letters ----------------
for x, y, t in [(120, 6, 'Weight Loss'), (452, 6, 'Energy Expenditure'), (683, 10, 'AUC EEJ'),
                (120, 171, 'PCA EEJ'), (312, 176, 'LBM vs EEJ'), (489, 173, 'Predicted EEJ'),
                (640, 173, 'Food consumption'), (129, 355, 'Pair fed weight loss'),
                (493, 353, 'Energy Expenditure'), (703, 353, 'AUC EEJ'),
                (112, 543, 'PCA Light EEJ'), (283, 543, 'PCA Dark EEJ'),
                (475, 550, 'LBM VS EEJ'), (656, 548, 'Predicted EEJ'), (121, 759, 'Lipase'),
                (228, 759, 'Cholesterol'), (421, 763, 'Oral LTT'), (586, 768, 'AUC Oral LTT')]:
    ftext(x, y, t, fontsize=8.4)

for x, y, t in [(4, 6, 'A'), (263, 6, 'B'), (13, 167, 'C'), (205, 167, 'D'), (397, 165, 'E'),
                (544, 165, 'F'), (7, 355, 'G'), (308, 353, 'H'), (3, 542, 'I'),
                (358, 542, 'J'), (572, 541, 'K'), (53, 759, 'L'), (167, 759, 'M'),
                (308, 759, 'N')]:
    ftext(x, y, t, fontsize=8, fontweight='bold')

fig.savefig('out.png', dpi=100)
